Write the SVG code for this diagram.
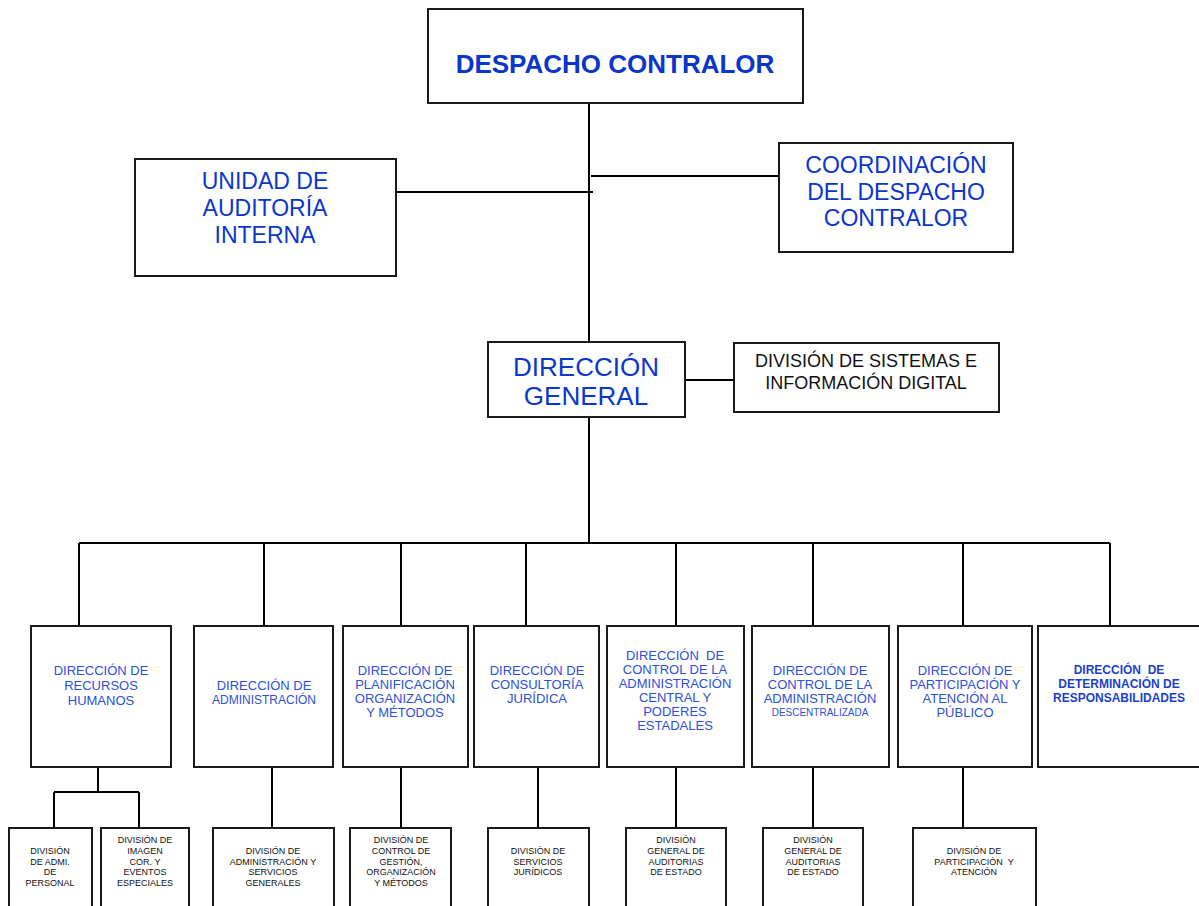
<svg xmlns="http://www.w3.org/2000/svg" width="1199" height="906" viewBox="0 0 1199 906">
<style>
.box{fill:#fff;stroke:#1a1a1a;stroke-width:2}
.ln{stroke:#000;stroke-width:2;fill:none}
.t{font-family:"Liberation Sans",Arial,sans-serif;text-anchor:middle}
.top{fill:#0a36cc}
.l2{fill:#2c50dc;font-size:13px}
.l3{fill:#111;font-size:9px}
</style>
<rect width="1199" height="906" fill="#fff"/>
<g id="connectors">
<path class="ln" d="M589 103V342M396 192H593M591 176H779M685 380H734M589 417V543M79 543H1110M79 543V626M264 543V626M401 543V626M526 543V626M676 543V626M813 543V626M963 543V626M1110 543V626"/>
<path class="ln" d="M98 767V792M54 792H139M54 792V828M139 792V828M272 767V828M401 767V828M538 767V828M676 767V828M813 767V828M963 767V828"/>
</g>
<g id="despacho">
<rect class="box" x="428" y="9" width="375" height="94"/>
<text class="t top" x="615" y="73" font-size="26" font-weight="bold">DESPACHO CONTRALOR</text>
</g>
<g id="unidad">
<rect class="box" x="135" y="159" width="261" height="117"/>
<text class="t top" font-size="23"><tspan x="265" y="189">UNIDAD DE</tspan><tspan x="265" y="216">AUDITORÍA</tspan><tspan x="265" y="243">INTERNA</tspan></text>
</g>
<g id="coordinacion">
<rect class="box" x="779" y="143" width="234" height="109"/>
<text class="t top" font-size="23"><tspan x="896" y="173">COORDINACIÓN</tspan><tspan x="896" y="199.5">DEL DESPACHO</tspan><tspan x="896" y="226">CONTRALOR</tspan></text>
</g>
<g id="direccion-general">
<rect class="box" x="488" y="342" width="197" height="75"/>
<text class="t top" font-size="26"><tspan x="586" y="376">DIRECCIÓN</tspan><tspan x="586" y="405">GENERAL</tspan></text>
</g>
<g id="sistemas">
<rect class="box" x="734" y="343" width="265" height="69"/>
<text class="t" font-size="18" fill="#111"><tspan x="866" y="367">DIVISIÓN DE SISTEMAS E</tspan><tspan x="866" y="389">INFORMACIÓN DIGITAL</tspan></text>
</g>
<g id="rrhh">
<rect class="box" x="31" y="626" width="140" height="141"/>
<text class="t l2"><tspan x="101" y="675">DIRECCIÓN DE</tspan><tspan x="101" y="690">RECURSOS</tspan><tspan x="101" y="705">HUMANOS</tspan></text>
</g>
<g id="administracion">
<rect class="box" x="194" y="626" width="139" height="141"/>
<text class="t l2"><tspan x="264" y="690">DIRECCIÓN DE</tspan><tspan x="264" y="704" font-size="12">ADMINISTRACIÓN</tspan></text>
</g>
<g id="planificacion">
<rect class="box" x="343" y="626" width="125" height="141"/>
<text class="t l2"><tspan x="405" y="675">DIRECCIÓN DE</tspan><tspan x="405" y="689">PLANIFICACIÓN</tspan><tspan x="405" y="703">ORGANIZACIÓN</tspan><tspan x="405" y="717">Y MÉTODOS</tspan></text>
</g>
<g id="consultoria">
<rect class="box" x="474" y="626" width="125" height="141"/>
<text class="t l2"><tspan x="537" y="675">DIRECCIÓN DE</tspan><tspan x="537" y="689">CONSULTORÍA</tspan><tspan x="537" y="703">JURÍDICA</tspan></text>
</g>
<g id="control-central">
<rect class="box" x="607" y="626" width="137" height="141"/>
<text class="t l2" xml:space="preserve"><tspan x="675" y="660">DIRECCIÓN  DE</tspan><tspan x="675" y="674">CONTROL DE LA</tspan><tspan x="675" y="688">ADMINISTRACIÓN</tspan><tspan x="675" y="702">CENTRAL Y</tspan><tspan x="675" y="716">PODERES</tspan><tspan x="675" y="730">ESTADALES</tspan></text>
</g>
<g id="control-descentralizada">
<rect class="box" x="752" y="626" width="137" height="141"/>
<text class="t l2"><tspan x="820" y="675">DIRECCIÓN DE</tspan><tspan x="820" y="689">CONTROL DE LA</tspan><tspan x="820" y="703">ADMINISTRACIÓN</tspan><tspan x="820" y="716" font-size="10">DESCENTRALIZADA</tspan></text>
</g>
<g id="participacion">
<rect class="box" x="898" y="626" width="134" height="141"/>
<text class="t l2"><tspan x="965" y="675">DIRECCIÓN DE</tspan><tspan x="965" y="689">PARTICIPACIÓN Y</tspan><tspan x="965" y="703">ATENCIÓN AL</tspan><tspan x="965" y="717">PÚBLICO</tspan></text>
</g>
<g id="responsabilidades">
<rect class="box" x="1038" y="626" width="162" height="141"/>
<text class="t" fill="#1a3fd0" font-size="12" font-weight="bold" xml:space="preserve"><tspan x="1119" y="674">DIRECCIÓN  DE</tspan><tspan x="1119" y="688">DETERMINACIÓN DE</tspan><tspan x="1119" y="702">RESPONSABILIDADES</tspan></text>
</g>
<g id="div-personal">
<rect class="box" x="9" y="828" width="83" height="84"/>
<text class="t l3"><tspan x="50" y="854">DIVISIÓN</tspan><tspan x="50" y="865">DE ADMI.</tspan><tspan x="50" y="875">DE</tspan><tspan x="50" y="886">PERSONAL</tspan></text>
</g>
<g id="div-imagen">
<rect class="box" x="101" y="828" width="88" height="84"/>
<text class="t l3"><tspan x="145" y="843">DIVISIÓN DE</tspan><tspan x="145" y="854">IMAGEN</tspan><tspan x="145" y="865">COR. Y</tspan><tspan x="145" y="875">EVENTOS</tspan><tspan x="145" y="886">ESPECIALES</tspan></text>
</g>
<g id="div-admin">
<rect class="box" x="213" y="828" width="121" height="84"/>
<text class="t l3"><tspan x="273" y="854">DIVISIÓN DE</tspan><tspan x="273" y="865">ADMINISTRACIÓN Y</tspan><tspan x="273" y="875">SERVICIOS</tspan><tspan x="273" y="886">GENERALES</tspan></text>
</g>
<g id="div-gestion">
<rect class="box" x="350" y="828" width="101" height="84"/>
<text class="t l3"><tspan x="401" y="843">DIVISIÓN DE</tspan><tspan x="401" y="854">CONTROL DE</tspan><tspan x="401" y="865">GESTIÓN,</tspan><tspan x="401" y="875">ORGANIZACIÓN</tspan><tspan x="401" y="886">Y MÉTODOS</tspan></text>
</g>
<g id="div-juridicos">
<rect class="box" x="488" y="828" width="101" height="84"/>
<text class="t l3"><tspan x="538" y="854">DIVISIÓN DE</tspan><tspan x="538" y="865">SERVICIOS</tspan><tspan x="538" y="875">JURÍDICOS</tspan></text>
</g>
<g id="div-auditorias-1">
<rect class="box" x="626" y="828" width="100" height="84"/>
<text class="t l3"><tspan x="676" y="843">DIVISIÓN</tspan><tspan x="676" y="854">GENERAL DE</tspan><tspan x="676" y="865">AUDITORIAS</tspan><tspan x="676" y="875">DE ESTADO</tspan></text>
</g>
<g id="div-auditorias-2">
<rect class="box" x="763" y="828" width="100" height="84"/>
<text class="t l3"><tspan x="813" y="843">DIVISIÓN</tspan><tspan x="813" y="854">GENERAL DE</tspan><tspan x="813" y="865">AUDITORIAS</tspan><tspan x="813" y="875">DE ESTADO</tspan></text>
</g>
<g id="div-participacion">
<rect class="box" x="913" y="828" width="123" height="84"/>
<text class="t l3" xml:space="preserve"><tspan x="974" y="854">DIVISIÓN DE</tspan><tspan x="974" y="865">PARTICIPACIÓN  Y</tspan><tspan x="974" y="875">ATENCIÓN</tspan></text>
</g>
</svg>
